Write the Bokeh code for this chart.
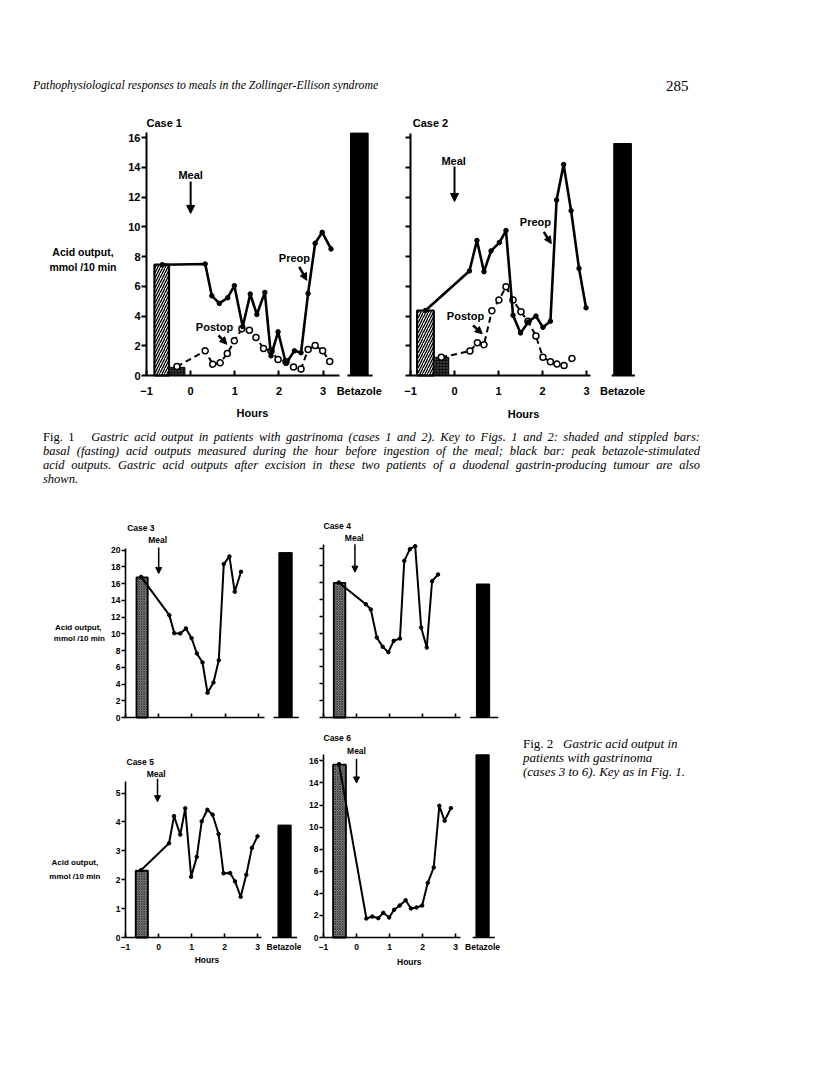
from bokeh.plotting import figure
from bokeh.models import Range1d, FixedTicker, Arrow, NormalHead, Div
from bokeh.layouts import column, row
from bokeh.core.properties import value
from bokeh.embed import file_html
from bokeh.resources import INLINE

# ---------------- data ----------------
TICKS_X = [-1, 0, 1, 2, 3]
BETAZOLE_X = 3.82

CASE1_PRE_H = [-0.64, 0.33, 0.48, 0.65, 0.84, 0.99, 1.18, 1.35, 1.50, 1.68, 1.82, 1.98, 2.16, 2.35, 2.50, 2.66, 2.82, 2.98, 3.18]
CASE1_PRE_V = [7.45, 7.5, 5.36, 4.85, 5.23, 6.04, 3.28, 5.48, 4.1, 5.59, 1.32, 2.94, 0.81, 1.66, 1.53, 5.52, 8.89, 9.63, 8.51]
CASE1_POST_H = [-0.31, 0.33, 0.5, 0.67, 0.83, 0.99, 1.16, 1.33, 1.48, 1.65, 1.82, 1.98, 2.16, 2.33, 2.50, 2.66, 2.82, 2.99, 3.15]
CASE1_POST_V = [0.6, 1.66, 0.76, 0.85, 1.48, 2.33, 3.14, 3.05, 2.56, 1.82, 1.64, 1.08, 0.92, 0.58, 0.43, 1.75, 2.02, 1.66, 0.94]

CASE2_PRE_H = [-0.66, 0.34, 0.51, 0.67, 0.83, 1.02, 1.17, 1.33, 1.5, 1.68, 1.85, 2.01, 2.18, 2.32, 2.48, 2.65, 2.83, 2.99]
CASE2_PRE_V = [4.37, 7.03, 9.08, 6.98, 8.38, 8.94, 9.75, 4.05, 2.86, 3.6, 4.0, 3.24, 3.65, 11.8, 14.19, 11.08, 7.2, 4.55]
CASE2_POST_H = [-0.3, 0.35, 0.52, 0.67, 0.85, 1.01, 1.17, 1.33, 1.51, 1.67, 1.85, 2.01, 2.18, 2.33, 2.49, 2.67]
CASE2_POST_V = [1.22, 1.64, 2.2, 2.07, 4.35, 5.07, 5.97, 5.07, 4.28, 3.65, 2.66, 1.22, 0.92, 0.77, 0.68, 1.15]

CASE3_H = [-0.53, 0.32, 0.47, 0.65, 0.82, 0.99, 1.15, 1.32, 1.47, 1.65, 1.81, 1.96, 2.13, 2.29, 2.48]
CASE3_V = [16.8, 12.23, 10.08, 10.04, 10.64, 9.48, 7.65, 6.57, 2.95, 4.18, 6.85, 18.33, 19.24, 15.02, 17.41]

CASE4_H = [-0.54, 0.28, 0.43, 0.61, 0.79, 0.96, 1.12, 1.31, 1.44, 1.61, 1.77, 1.95, 2.12, 2.28, 2.46]
CASE4_V = [15.98, 13.41, 12.78, 9.47, 8.36, 7.73, 9.07, 9.35, 18.54, 19.92, 20.28, 10.65, 8.28, 16.13, 16.92]

CASE5_H = [-0.53, 0.32, 0.47, 0.66, 0.81, 0.99, 1.16, 1.31, 1.48, 1.64, 1.82, 1.97, 2.17, 2.32, 2.49, 2.66, 2.83, 3.0]
CASE5_V = [2.33, 3.26, 4.2, 3.56, 4.47, 2.1, 2.79, 4.02, 4.42, 4.25, 3.58, 2.22, 2.23, 1.94, 1.41, 2.17, 3.1, 3.5]

CASE6_H = [-0.53, 0.3, 0.48, 0.66, 0.81, 0.99, 1.14, 1.31, 1.49, 1.65, 1.82, 1.99, 2.16, 2.34, 2.51, 2.67, 2.86]
CASE6_V = [15.7, 1.72, 1.9, 1.75, 2.24, 1.81, 2.51, 2.9, 3.38, 2.63, 2.72, 2.9, 4.95, 6.34, 11.93, 10.57, 11.72]

# basal (hatched) bars: centre, width, value
BASAL_PRE = {1: (-0.655, 0.33, 7.45), 2: (-0.66, 0.38, 4.37), 3: (-0.5, 0.34, 16.73),
             4: (-0.515, 0.35, 15.94), 5: (-0.505, 0.37, 2.31), 6: (-0.515, 0.39, 15.65)}
# basal postoperative (stippled) bars
BASAL_POST = {1: (-0.31, 0.36, 0.55), 2: (-0.3, 0.34, 1.22)}
# peak betazole-stimulated output
BETAZOLE = {1: 16.3, 2: 15.6, 3: 19.7, 4: 15.8, 5: 3.89, 6: 16.55}

FONT = "Liberation Sans, Arial, sans-serif"
SERIF = "'Liberation Serif', 'Times New Roman', serif"


def panel(x0, y0, w, h, xa, yb, sx, sy, yticks, yaxis_top, xaxis_end,
          show_ylabels=True, show_xlabels=True, big=True):
    """Figure whose frame fills it; page position of hour -1 is xa, of value 0 is yb."""
    xr = Range1d(-1 - (xa - x0) / sx, -1 + (x0 + w - xa) / sx)
    yr = Range1d(-(y0 + h - yb) / sy, (yb - y0) / sy)
    p = figure(width=w, height=h, x_range=xr, y_range=yr, title=None,
               output_backend="svg", toolbar_location=None,
               min_border=0, min_border_left=0, min_border_right=0, min_border_top=0, min_border_bottom=0)
    p.grid.visible = False
    p.outline_line_color = None
    p.background_fill_color = "white"
    p.border_fill_color = "white"
    lw = 2 if big else 1.6
    fs = "11px" if big else "8.5px"
    ya = p.yaxis[0]
    ya.fixed_location = -1
    ya.ticker = FixedTicker(ticks=yticks)
    ya.bounds = (0, yaxis_top)
    ya.axis_line_width = lw
    ya.major_tick_line_width = lw
    ya.major_tick_in = 0
    ya.major_tick_out = 5 if big else 4
    ya.minor_tick_line_color = None
    ya.major_label_standoff = 1
    ya.major_label_text_font = FONT
    ya.major_label_text_font_style = "bold"
    ya.major_label_text_font_size = fs
    ya.major_label_text_color = "black"
    if not show_ylabels:
        ya.major_label_overrides = {t: "" for t in yticks}
    xa_ = p.xaxis[0]
    xa_.fixed_location = 0
    xa_.ticker = FixedTicker(ticks=TICKS_X + [BETAZOLE_X])
    if show_xlabels:
        xa_.major_label_overrides = {-1: "\u22121", BETAZOLE_X: "Betazole"}
    else:
        xa_.major_label_overrides = {t: "" for t in TICKS_X + [BETAZOLE_X]}
    xa_.bounds = (-1, xaxis_end)
    xa_.axis_line_width = lw
    xa_.major_tick_line_width = lw
    xa_.major_tick_in = 5 if big else 4
    xa_.major_tick_out = 0
    xa_.minor_tick_line_color = None
    xa_.major_label_standoff = 9 if big else 4
    xa_.major_label_text_font = FONT
    xa_.major_label_text_font_style = "bold"
    xa_.major_label_text_font_size = fs
    xa_.major_label_text_color = "black"
    return p


def add_bars(p, case, bz_axis, big=True):
    c, w, v = BASAL_PRE[case]
    if big:
        p.vbar(x=[c], width=w, top=[v], bottom=0, fill_color="white", line_color="black",
               line_width=2.2, hatch_pattern="/", hatch_color="black", hatch_scale=5, hatch_weight=1.3)
    else:
        p.vbar(x=[c], width=w, top=[v], bottom=0, fill_color="#8c8c8c", line_color="black",
               line_width=1.8, hatch_pattern="x", hatch_color="#1a1a1a", hatch_scale=2.5, hatch_weight=0.7)
    if case in BASAL_POST:
        c2, w2, v2 = BASAL_POST[case]
        p.vbar(x=[c2], width=w2, top=[v2], bottom=0, fill_color="#111111", line_color="black",
               line_width=1, hatch_pattern="dot", hatch_color="#777777", hatch_scale=3, hatch_weight=1)
    p.vbar(x=[BETAZOLE_X], width=0.4, top=[BETAZOLE[case]], bottom=0, fill_color="black", line_color="black")
    p.segment(x0=[bz_axis[0]], y0=[0], x1=[bz_axis[1]], y1=[0], line_color="black",
              line_width=2 if big else 1.6)


def text(p, x, y, t, fs="11px", align="center"):
    p.text(x=[x], y=[y], text=[t], text_font=value(FONT), text_font_style="bold",
           text_font_size=fs, text_align=align, text_baseline="middle", text_color="black")


def arrow(p, x0, y0, x1, y1, size=8, lw=2):
    p.add_layout(Arrow(end=NormalHead(size=size, fill_color="black", line_color="black", line_width=1),
                       x_start=x0, y_start=y0, x_end=x1, y_end=y1, line_width=lw, line_color="black"))


Y16 = list(range(0, 17, 2))
Y20 = list(range(0, 21, 2))
FS1 = "11px"
FS2 = "8.5px"

# ---------------- Fig. 1, case 1 ----------------
p1 = panel(0, 108, 388, 312, 146, 375, 44.15, 14.87, Y16, 16.35, 3.37)
add_bars(p1, 1, (3.55, 4.12))
p1.line(CASE1_POST_H, CASE1_POST_V, line_color="black", line_width=2, line_dash="6 4")
p1.scatter(CASE1_POST_H, CASE1_POST_V, size=6, fill_color="white", line_color="black", line_width=1.5)
p1.line(CASE1_PRE_H, CASE1_PRE_V, line_color="black", line_width=2.6)
p1.scatter(CASE1_PRE_H, CASE1_PRE_V, size=4.5, fill_color="black", line_color="black")
text(p1, -1, 17.0, "Case 1", align="left")
text(p1, 0, 13.5, "Meal")
arrow(p1, 0, 13.05, 0, 10.9)
text(p1, 2.35, 7.9, "Preop")
arrow(p1, 2.46, 7.3, 2.63, 6.4, size=7, lw=2.5)
text(p1, 0.54, 3.25, "Postop")
arrow(p1, 0.63, 2.7, 0.82, 2.1, size=7, lw=2.5)
text(p1, -1.68, 8.28, "Acid  output,", fs="10.5px", align="right")
text(p1, -1.68, 7.27, "mmol /10 min", fs="10.5px", align="right")
text(p1, 1.4, -2.49, "Hours")

# ---------------- Fig. 1, case 2 ----------------
p2 = panel(388, 108, 265, 312, 410, 375, 44.0, 14.87, Y16, 16.25, 3.1, show_ylabels=False)
add_bars(p2, 2, (3.57, 4.1))
p2.line(CASE2_POST_H, CASE2_POST_V, line_color="black", line_width=2, line_dash="6 4")
p2.scatter(CASE2_POST_H, CASE2_POST_V, size=6, fill_color="white", line_color="black", line_width=1.5)
p2.line(CASE2_PRE_H, CASE2_PRE_V, line_color="black", line_width=2.6)
p2.scatter(CASE2_PRE_H, CASE2_PRE_V, size=4.5, fill_color="black", line_color="black")
text(p2, -0.95, 17.0, "Case 2", align="left")
text(p2, -0.02, 14.45, "Meal")
arrow(p2, 0, 14.05, 0, 11.7)
text(p2, 1.84, 10.3, "Preop")
arrow(p2, 2.03, 9.65, 2.2, 8.87, size=7, lw=2.5)
text(p2, 0.25, 3.97, "Postop")
arrow(p2, 0.42, 3.37, 0.63, 2.8, size=7, lw=2.5)
text(p2, 1.57, -2.56, "Hours")

# ---------------- Fig. 2, cases 3-6 ----------------
p3 = panel(0, 510, 303, 220, 125, 717, 33.2, 8.37, Y20, 20.2, 3.2, show_xlabels=False, big=False)
add_bars(p3, 3, (3.46, 4.22), big=False)
p3.line(CASE3_H, CASE3_V, line_color="black", line_width=2)
p3.scatter(CASE3_H, CASE3_V, size=3.5, fill_color="black", line_color="black")
text(p3, -0.95, 22.66, "Case 3", fs=FS2, align="left")
text(p3, -0.03, 21.2, "Meal", fs=FS2)
arrow(p3, 0, 20.3, 0, 17.2, size=6, lw=1.5)
text(p3, -2.39, 10.75, "Acid  output,", fs="8px")
text(p3, -2.39, 9.44, "mmol /10 min", fs="8px")

p4 = panel(303, 510, 206, 220, 323, 717, 33.1, 8.45, Y20, 20.5, 3.15,
           show_ylabels=False, show_xlabels=False, big=False)
add_bars(p4, 4, (3.43, 4.28), big=False)
p4.line(CASE4_H, CASE4_V, line_color="black", line_width=2)
p4.scatter(CASE4_H, CASE4_V, size=3.5, fill_color="black", line_color="black")
text(p4, -1, 22.7, "Case 4", fs=FS2, align="left")
text(p4, -0.07, 21.3, "Meal", fs=FS2)
arrow(p4, -0.05, 20.5, -0.05, 17.2, size=6, lw=1.5)

p5 = panel(0, 730, 301, 245, 125, 937, 33.0, 28.9, [0, 1, 2, 3, 4, 5], 5.4, 3.13, big=False)
add_bars(p5, 5, (3.44, 4.2), big=False)
p5.line(CASE5_H, CASE5_V, line_color="black", line_width=2)
p5.scatter(CASE5_H, CASE5_V, size=3.5, fill_color="black", line_color="black")
text(p5, -0.97, 6.06, "Case 5", fs=FS2, align="left")
text(p5, -0.07, 5.65, "Meal", fs=FS2)
arrow(p5, -0.03, 5.49, -0.03, 4.7, size=6, lw=1.5)
text(p5, -1.76, 2.58, "Acid  output,", fs="8px", align="right")
text(p5, -1.76, 2.12, "mmol /10 min", fs="8px", align="right")
text(p5, 1.47, -0.78, "Hours", fs=FS2)

p6 = panel(301, 730, 207, 245, 323, 937, 33.0, 11.04, Y16, 16.55, 3.16, big=False)
add_bars(p6, 6, (3.52, 4.19), big=False)
p6.line(CASE6_H, CASE6_V, line_color="black", line_width=2)
p6.scatter(CASE6_H, CASE6_V, size=3.5, fill_color="black", line_color="black")
text(p6, -1, 18.06, "Case 6", fs=FS2, align="left")
text(p6, 0.0, 16.85, "Meal", fs=FS2)
arrow(p6, 0, 16.2, 0, 14.0, size=6, lw=1.5)
text(p6, 1.6, -2.26, "Hours", fs=FS2)

# ---------------- texts ----------------
header = Div(width=800, height=108, margin=0, text=(
    f'<div style="position:relative;width:800px;height:108px;font-family:{SERIF};">'
    '<span style="position:absolute;left:33px;top:77px;font-size:11.8px;font-style:italic;white-space:nowrap;">'
    'Pathophysiological responses to meals in the Zollinger-Ellison syndrome</span>'
    '<span style="position:absolute;left:666px;top:76px;font-size:15px;">285</span></div>'))

LJ = 'text-align:justify;text-align-last:justify;white-space:nowrap;'
cap1 = Div(width=800, height=90, margin=0, text=(
    f'<div style="position:relative;width:800px;height:90px;font-family:{SERIF};font-size:12.5px;line-height:14px;">'
    '<div style="position:absolute;left:43px;top:10px;width:657px;">'
    f'<div style="{LJ}"><span style="font-style:normal">Fig. 1</span>&nbsp;&nbsp;&nbsp;<i>Gastric acid output in patients with gastrinoma (cases 1 and 2). Key to Figs. 1 and 2: shaded and stippled bars:</i></div>'
    f'<div style="{LJ}"><i>basal (fasting) acid outputs measured during the hour before ingestion of the meal; black bar: peak betazole-stimulated</i></div>'
    f'<div style="{LJ}"><i>acid outputs. Gastric acid outputs after excision in these two patients of a duodenal gastrin-producing tumour are also</i></div>'
    '<div><i>shown.</i></div></div></div>'))

cap2 = Div(width=250, height=245, margin=0, text=(
    f'<div style="position:relative;width:250px;height:245px;font-family:{SERIF};font-size:13px;line-height:14px;">'
    '<div style="position:absolute;left:15px;top:7px;width:230px;">'
    '<div>Fig. 2&nbsp;&nbsp;&nbsp;<i>Gastric acid output in</i></div>'
    '<div><i>patients with gastrinoma</i></div>'
    '<div><i>(cases 3 to 6). Key as in Fig. 1.</i></div></div></div>'))

layout = column(header, row(p1, p2), cap1, row(p3, p4), row(p5, p6, cap2))
open("out.html", "w").write(file_html(layout, INLINE))
